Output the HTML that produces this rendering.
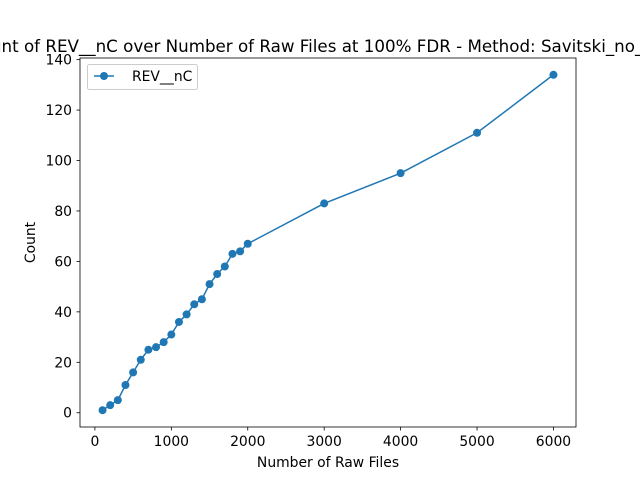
<!DOCTYPE html>
<html><head><meta charset="utf-8"><style>
body{margin:0;background:#fff;}
svg{display:block;font-family:"DejaVu Sans","Liberation Sans",sans-serif;}
</style></head><body>
<svg id="chart" width="640" height="480" viewBox="0 0 640 480">
<rect width="640" height="480" fill="#fff"/>
<g id="ticks"></g>
<g id="series"></g>
<rect x="80" y="58" width="496" height="369" fill="none" stroke="#000" stroke-width="0.8"/>
<text x="328" y="52" font-size="16.7" text-anchor="middle">Count of REV__nC over Number of Raw Files at 100% FDR - Method: Savitski_no_norm</text>
<text x="328" y="467" font-size="13.9" text-anchor="middle">Number of Raw Files</text>
<text transform="translate(35,242.5) rotate(-90)" font-size="13.9" text-anchor="middle">Count</text>
<g>
<rect x="87.5" y="64.5" width="110" height="25" rx="2" fill="#fff" fill-opacity="0.8" stroke="#ccc"/>
<line x1="94" y1="76" x2="114" y2="76" stroke="#1f77b4" stroke-width="1.5"/>
<circle cx="104" cy="76" r="4" fill="#1f77b4"/>
<text x="132" y="81" font-size="13.9">REV__nC</text>
</g>
</svg>
<script>
const xValues=[100,200,300,400,500,600,700,800,900,1000,1100,1200,1300,1400,1500,1600,1700,1800,1900,2000,3000,4000,5000,6000];
const yValues=[1,3,5,11,16,21,25,26,28,31,36,39,43,45,51,55,58,63,64,67,83,95,111,134];
const xTicks=[0,1000,2000,3000,4000,5000,6000];
const yTicks=[0,20,40,60,80,100,120,140];
const NS="http://www.w3.org/2000/svg";
const xmin=-195,xmax=6295,ymin=-5.65,ymax=140.65;
function sx(v){return 80+(v-xmin)/(xmax-xmin)*496;}
function sy(v){return 427-(v-ymin)/(ymax-ymin)*369;}
const tg=document.getElementById('ticks');
xTicks.forEach(t=>{
 const l=document.createElementNS(NS,'line');
 l.setAttribute('x1',sx(t));l.setAttribute('x2',sx(t));l.setAttribute('y1',427);l.setAttribute('y2',430.5);l.setAttribute('stroke','#000');l.setAttribute('stroke-width','0.8');
 
 
 tg.appendChild(l);
 const tx=document.createElementNS(NS,'text');
 tx.setAttribute('x',sx(t));tx.setAttribute('y',446);tx.setAttribute('font-size','13.9');tx.setAttribute('text-anchor','middle');tx.textContent=t;
 
 
 tg.appendChild(tx);
});
yTicks.forEach(t=>{
 const l=document.createElementNS(NS,'line');
 l.setAttribute('x1',76.5);l.setAttribute('x2',80);l.setAttribute('y1',sy(t));l.setAttribute('y2',sy(t));l.setAttribute('stroke','#000');l.setAttribute('stroke-width','0.8');
 
 
 tg.appendChild(l);
 const tx=document.createElementNS(NS,'text');
 tx.setAttribute('x',72);tx.setAttribute('y',sy(t)+5);tx.setAttribute('font-size','13.9');tx.setAttribute('text-anchor','end');tx.textContent=t;
 
 
 tg.appendChild(tx);
});
const sg=document.getElementById('series');
const pl=document.createElementNS(NS,'polyline');
pl.setAttribute('points',xValues.map((x,i)=>sx(x)+','+sy(yValues[i])).join(' '));
pl.setAttribute('fill','none');pl.setAttribute('stroke','#1f77b4');pl.setAttribute('stroke-width','1.5');


sg.appendChild(pl);
xValues.forEach((x,i)=>{
 const c=document.createElementNS(NS,'circle');
 c.setAttribute('cx',sx(x));c.setAttribute('cy',sy(yValues[i]));c.setAttribute('r',4);c.setAttribute('fill','#1f77b4');
 
 
 sg.appendChild(c);
});
</script>
</body></html>
